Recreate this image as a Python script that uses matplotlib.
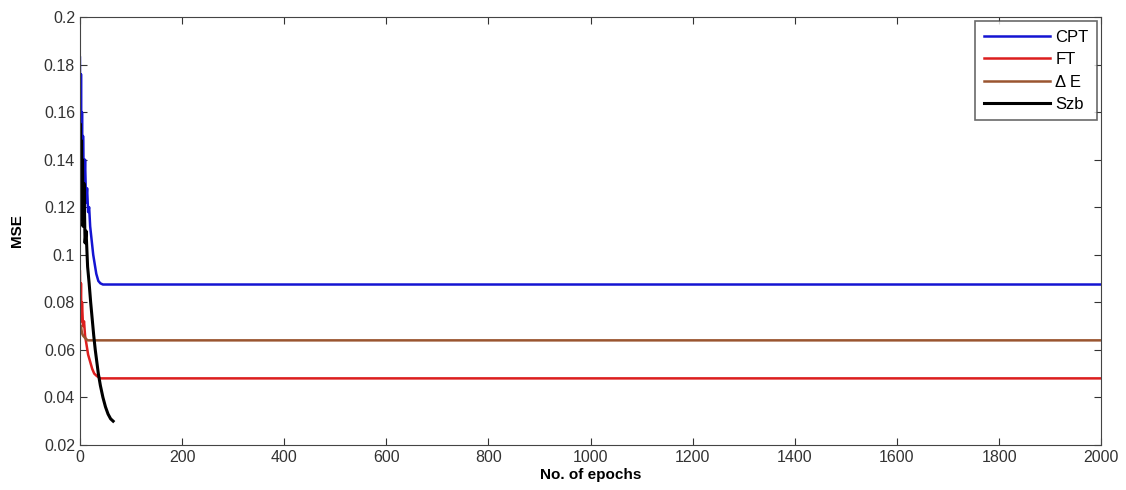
import matplotlib
matplotlib.use('Agg')
import matplotlib.pyplot as plt

# Data
cpt_epochs = [0, 1, 2, 3, 4, 5, 6, 8, 10, 12, 14, 16, 18, 20, 23, 26, 29, 32, 36, 40, 45, 2000]
cpt_mse = [0.183, 0.125, 0.176, 0.13, 0.16, 0.128, 0.15, 0.125, 0.14, 0.122, 0.128, 0.118,
           0.12, 0.112, 0.106, 0.1, 0.096, 0.092, 0.089, 0.088, 0.0875, 0.0875]

ft_epochs = [0, 1, 2, 3, 4, 6, 8, 10, 13, 16, 20, 24, 28, 33, 40, 2000]
ft_mse = [0.093, 0.075, 0.088, 0.072, 0.08, 0.07, 0.072, 0.066, 0.062, 0.058, 0.055,
          0.052, 0.05, 0.049, 0.048, 0.048]

de_epochs = [0, 1, 2, 4, 6, 10, 15, 2000]
de_mse = [0.071, 0.068, 0.07, 0.067, 0.066, 0.065, 0.064, 0.064]

szb_epochs = [0, 1, 2, 3, 4, 5, 6, 8, 10, 12, 15, 18, 21, 24, 27, 30, 33, 36, 40, 45, 50, 55, 60, 65]
szb_mse = [0.13, 0.155, 0.12, 0.148, 0.115, 0.14, 0.112, 0.13, 0.105, 0.11, 0.095, 0.088,
           0.08, 0.073, 0.066, 0.06, 0.055, 0.05, 0.045, 0.04, 0.036, 0.033, 0.031, 0.03]

plt.rcParams['font.family'] = ['Liberation Sans', 'DejaVu Sans']

fig = plt.figure(figsize=(11.26, 4.9), dpi=100)
ax = fig.add_axes([0.071, 0.092, 0.907, 0.873])

ax.plot(cpt_epochs, cpt_mse, color='#1414d2', lw=1.8, label='CPT')
ax.plot(ft_epochs, ft_mse, color='#dc1e1e', lw=1.8, label='FT')
ax.plot(de_epochs, de_mse, color='#9a5530', lw=1.8, label='\u0394 E')
ax.plot(szb_epochs, szb_mse, color='black', lw=2.2, label='Szb')

ax.set_xlim(0, 2000)
ax.set_ylim(0.02, 0.2)
ax.set_xticks(range(0, 2001, 200))
ax.set_yticks([0.02, 0.04, 0.06, 0.08, 0.1, 0.12, 0.14, 0.16, 0.18, 0.2])
ax.set_yticklabels(['0.02', '0.04', '0.06', '0.08', '0.1', '0.12', '0.14', '0.16', '0.18', '0.2'])
ax.tick_params(direction='in', top=True, right=True, labelsize=11.5, colors='#333333', length=5)
for s in ax.spines.values():
    s.set_color('#444444')

ax.set_xlabel('No. of epochs', fontsize=11, fontweight='bold', labelpad=2)
ax.set_ylabel('MSE', fontsize=11, fontweight='bold', labelpad=14)

leg = ax.legend(loc='upper right', fontsize=12, fancybox=False, edgecolor='#444444',
                handlelength=4.0, borderaxespad=0.25, labelspacing=0.45, handletextpad=0.3,
                borderpad=0.5)
leg.get_frame().set_linewidth(1.2)

fig.savefig('out.png', dpi=100)
